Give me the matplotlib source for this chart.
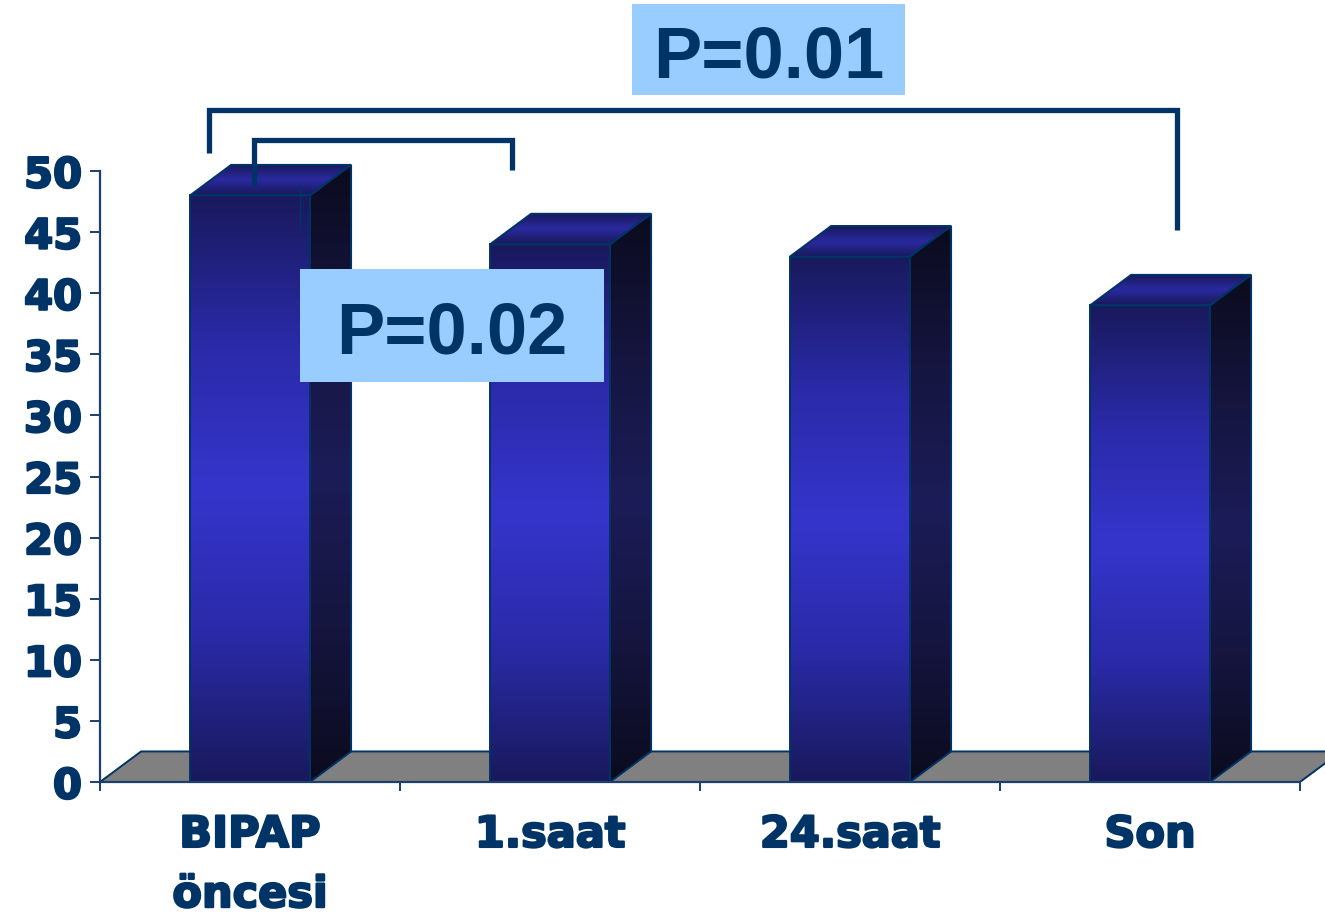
import numpy as np
import matplotlib
matplotlib.use("Agg")
import matplotlib.pyplot as plt
import matplotlib.patheffects as pe
from matplotlib.patches import Polygon, Rectangle
from matplotlib.colors import LinearSegmentedColormap

# ---- data -------------------------------------------------------------
categories = ["BIPAP\nöncesi", "1.saat", "24.saat", "Son"]
values = [48, 44, 43, 39]
y_ticks = [0, 5, 10, 15, 20, 25, 30, 35, 40, 45, 50]
p_labels = ["P=0.01", "P=0.02"]

# ---- style ------------------------------------------------------------
NAVY = "#003366"
AXIS = "#1c3f6e"
BOX = "#99ccff"
FLOOR = "#808080"
BAR_W = 0.4          # front face width (category units)
DX, DY = 0.137, 2.5  # 3-D depth offset (x units, y units)

front_cmap = LinearSegmentedColormap.from_list(
    "front", ["#19195c", "#2a2aa8", "#3535cc", "#2a2aa8", "#19195c"])
side_cmap = LinearSegmentedColormap.from_list(
    "side", ["#0b0b1e", "#15153f", "#1c1c58", "#15153f", "#0b0b1e"])
top_cmap = LinearSegmentedColormap.from_list(
    "top", ["#18185a", "#2a2aa0", "#18185a"])

W, H, DPI = 1325, 918, 100
fig = plt.figure(figsize=(W / DPI, H / DPI), dpi=DPI)
fig.patch.set_facecolor("white")

# axes: bottom edge = zero line, left edge = value axis
ax = fig.add_axes([100 / W, (H - 782) / H, (W - 100) / W, 782 / H])
x_left, x_right = -0.5, len(categories) - 0.5
ax.set_facecolor("none")

grad = np.linspace(0, 1, 256).reshape(-1, 1)


def gradient_face(verts, extent, cmap, z):
    poly = Polygon(verts, closed=True, facecolor="none", edgecolor=NAVY,
                   linewidth=1.4, zorder=z + 0.5)
    ax.add_patch(poly)
    im = ax.imshow(grad, cmap=cmap, extent=extent, origin="lower",
                   aspect="auto", interpolation="bilinear", zorder=z)
    im.set_clip_path(poly)


# floor
floor = Polygon([(x_left, 0), (x_right, 0), (x_right + DX, DY),
                 (x_left + DX, DY)], closed=True, facecolor=FLOOR,
                edgecolor=NAVY, linewidth=1.4, zorder=1)
ax.add_patch(floor)

# bars
for i, v in enumerate(values):
    x0, x1 = i - BAR_W / 2, i + BAR_W / 2
    z = 2 + i
    # side face
    gradient_face([(x1, 0), (x1 + DX, DY), (x1 + DX, v + DY), (x1, v)],
                  [x1, x1 + DX, 0, v + DY], side_cmap, z)
    # top face
    gradient_face([(x0, v), (x1, v), (x1 + DX, v + DY), (x0 + DX, v + DY)],
                  [x0, x1 + DX, v, v + DY], top_cmap, z)
    # front face
    gradient_face([(x0, 0), (x1, 0), (x1, v), (x0, v)],
                  [x0, x1, 0, v], front_cmap, z)

# significance brackets
lw_br = 3.8
ax.plot([-0.137, -0.137, 3.09, 3.09], [51.5, 55.0, 55.0, 45.2], color=NAVY,
        lw=lw_br, solid_joinstyle="miter", solid_capstyle="butt", zorder=10)
ax.plot([0.013, 0.013, 0.873, 0.873], [48.85, 52.5, 52.5, 50.1], color=NAVY,
        lw=lw_br, solid_joinstyle="miter", solid_capstyle="butt", zorder=10)
ax.plot([0.167, 0.167], [45.2, 48.85], color=NAVY, lw=1.0, zorder=10)

# p-value boxes
boxes = [
    (1.273, 2.183, 56.22, 63.67, 57.69),
    (0.167, 1.180, 32.73, 41.98, 35.10),
]
for label, (bx0, bx1, by0, by1, base) in zip(p_labels, boxes):
    ax.add_patch(Rectangle((bx0, by0), bx1 - bx0, by1 - by0,
                           facecolor=BOX, edgecolor="none", zorder=11))
    ax.text((bx0 + bx1) / 2, base, label, ha="center", va="baseline",
            fontsize=52, fontweight="bold", family="Liberation Sans",
            color=NAVY, zorder=12)

# axes cosmetics
ax.set_xlim(x_left, x_right + 25 / 300)
ax.set_ylim(0, 782 / 12.22)
for s in ("top", "right"):
    ax.spines[s].set_visible(False)
ax.spines["left"].set_bounds(0, 50)
ax.spines["bottom"].set_bounds(x_left, x_right)
for s in ("left", "bottom"):
    ax.spines[s].set_color(AXIS)
    ax.spines[s].set_linewidth(1.6)
    ax.spines[s].set_zorder(20)

ax.set_yticks(y_ticks)
ax.set_yticklabels([str(t) for t in y_ticks])
ax.tick_params(axis="y", direction="out", length=7, width=1.4, color=AXIS,
               pad=6, labelsize=30, labelcolor=NAVY)

ax.set_xticks(np.arange(len(categories) + 1) - 0.5)
ax.set_xticklabels([])
ax.set_xticks(np.arange(len(categories)), minor=True)
ax.set_xticklabels(categories, minor=True)
ax.tick_params(axis="x", which="major", direction="out", length=6.5,
               width=1.4, color=AXIS)
ax.tick_params(axis="x", which="minor", length=0, pad=23, labelsize=31,
               labelcolor=NAVY)

heavy = [pe.withStroke(linewidth=1.6, foreground=NAVY)]
for lab in ax.get_yticklabels() + ax.get_xticklabels(minor=True):
    lab.set_fontweight("bold")
    lab.set_family("DejaVu Sans")
    lab.set_path_effects(heavy)
for lab in ax.get_xticklabels(minor=True):
    lab.set_linespacing(1.55)

fig.savefig("out.png", dpi=DPI)
